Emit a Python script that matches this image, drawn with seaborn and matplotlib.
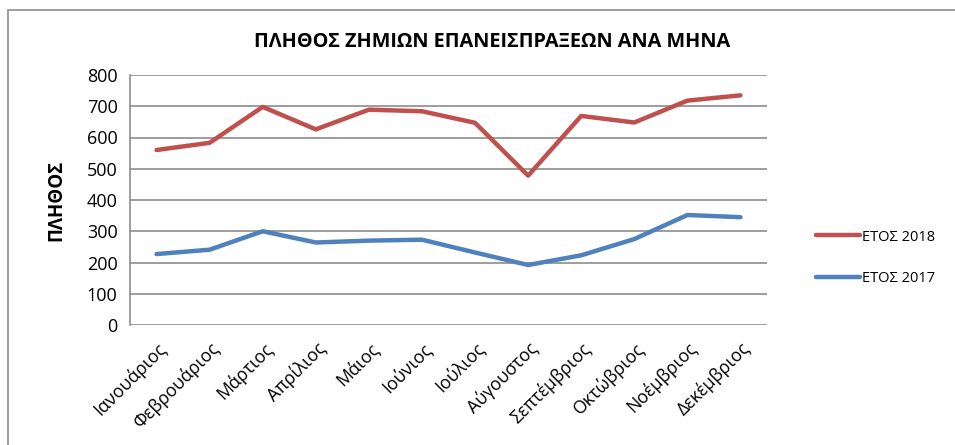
import matplotlib
matplotlib.use("Agg")
import matplotlib.pyplot as plt
import seaborn as sns
import pandas as pd
from matplotlib.patches import Rectangle

months = ["Ιανουάριος", "Φεβρουάριος", "Μάρτιος", "Απρίλιος", "Μάιος", "Ιούνιος",
          "Ιούλιος", "Αύγουστος", "Σεπτέμβριος", "Οκτώβριος", "Νοέμβριος", "Δεκέμβριος"]
values_2018 = [560, 583, 698, 626, 689, 684, 647, 478, 669, 648, 718, 735]
values_2017 = [227, 241, 300, 264, 270, 273, 232, 192, 223, 275, 352, 345]
series_names = ["ΕΤΟΣ 2018", "ΕΤΟΣ 2017"]
yticks = [0, 100, 200, 300, 400, 500, 600, 700, 800]
title = "ΠΛΗΘΟΣ ΖΗΜΙΩΝ ΕΠΑΝΕΙΣΠΡΑΞΕΩΝ ΑΝΑ ΜΗΝΑ"
ylabel = "ΠΛΗΘΟΣ"

sns.set_theme(style="white")
plt.rcParams['font.family'] = ['Open Sans', 'DejaVu Sans']
plt.rcParams['text.color'] = 'black'
plt.rcParams['xtick.color'] = 'black'
plt.rcParams['ytick.color'] = 'black'
plt.rcParams['axes.labelcolor'] = 'black'

idx = list(range(len(months)))
df = pd.DataFrame({
    "pos": idx * 2,
    "value": values_2018 + values_2017,
    "series": [series_names[0]] * len(months) + [series_names[1]] * len(months),
})

fig = plt.figure(figsize=(9.55, 4.45), dpi=100)
ax = fig.add_axes([130 / 955, 1 - 325 / 445, (767 - 130) / 955, 250 / 445])

sns.lineplot(data=df, x="pos", y="value", hue="series", hue_order=series_names,
             palette={"ΕΤΟΣ 2018": "#C0504D", "ΕΤΟΣ 2017": "#4F81BD"},
             linewidth=3.2, ax=ax, legend=True)

ax.set_xlim(-0.5, len(months) - 0.5)
ax.set_ylim(0, 800)
ax.set_yticks(yticks)
ax.set_yticklabels([str(v) for v in yticks], fontsize=13)
ax.set_xticks(idx)
ax.set_xticklabels(months, rotation=45, ha="right", rotation_mode="anchor", fontsize=12.8)
ax.tick_params(axis="x", length=0, pad=10)
ax.tick_params(axis="y", length=0, pad=9)
ax.yaxis.grid(True, color="#8c8c8c", linewidth=1.2)
ax.set_axisbelow(True)
for s in ["top", "right", "bottom"]:
    ax.spines[s].set_visible(False)
ax.spines["left"].set_color("#8c8c8c")
ax.spines["left"].set_linewidth(1.2)
ax.set_xlabel("")
ax.set_ylabel("")
fig.text(56 / 955, 1 - 200 / 445, ylabel, rotation=90, ha="center", va="center",
         fontsize=13.5, fontweight="bold")

handles, labels = ax.get_legend_handles_labels()
ax.legend(handles, labels, loc="center left", bbox_to_anchor=(803 / 955, 1 - 258 / 445),
          bbox_transform=fig.transFigure, frameon=False, fontsize=10.5,
          handlelength=3.0, handletextpad=0.15, labelspacing=1.85)

fig.text(492 / 955, 1 - 42 / 445, title, ha="center", va="center",
         fontsize=14.3, fontweight="bold")

fig.patches.append(Rectangle((8 / 955, -0.1), 1.1, 1 - 10 / 445 + 0.1,
                             transform=fig.transFigure, fill=False,
                             edgecolor="#8c8c8c", linewidth=1.2))

fig.savefig("out.png", dpi=100, facecolor="white")
